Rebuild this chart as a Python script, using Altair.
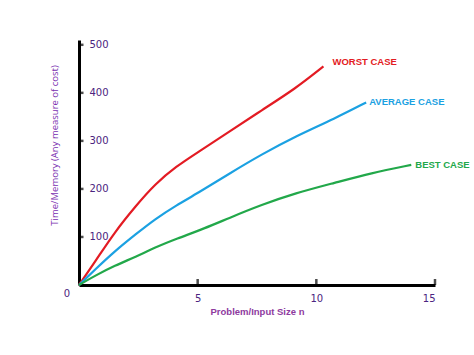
import altair as alt
import pandas as pd

# Data
worst_n = [0, 0.7, 1.5, 2.4, 3.2, 4.1, 5.0, 6.3, 7.7, 9.1, 10.3]
worst_v = [0, 50, 110, 165, 210, 247, 276, 318, 364, 408, 455]
avg_n = [0, 0.7, 1.5, 2.4, 3.2, 4.1, 5.0, 6.3, 7.7, 9.1, 10.8, 12.1]
avg_v = [0, 33, 70, 106, 137, 166, 191, 231, 272, 309, 347, 380]
best_n = [0, 0.7, 1.5, 2.4, 3.2, 4.1, 5.3, 6.3, 7.7, 9.1, 10.8, 12.3, 14.0]
best_v = [0, 20, 40, 59, 78, 96, 118, 139, 167, 191, 213, 233, 250]

series = ["WORST CASE", "AVERAGE CASE", "BEST CASE"]
colors = ["#E31B23", "#1BA1E2", "#22A84A"]
x_ticks = [5, 10, 15]
y_ticks = [100, 200, 300, 400, 500]

rows = []
for name, ns, vs in zip(series, [worst_n, avg_n, best_n], [worst_v, avg_v, best_v]):
    for i, (n, v) in enumerate(zip(ns, vs)):
        rows.append({"series": name, "n": n, "v": v, "order": i})
df = pd.DataFrame(rows)

ends = df.sort_values("order").groupby("series").tail(1)

W, H = 356, 245
xs = alt.Scale(domain=[0, 15], nice=False)
ys = alt.Scale(domain=[0, 510], nice=False)
col = alt.Scale(domain=series, range=colors)

x_axis = alt.Axis(
    values=x_ticks, ticks=False, grid=False, domainColor="black", domainWidth=3,
    labelColor="#4B2480", labelFontSize=10, labelFont="DejaVu Sans", labelPadding=8,
    title="Problem/Input Size n", titleColor="#8E3A9E", titleFont="Liberation Sans",
    titleFontSize=9.5, titleFontWeight="bold", titlePadding=3,
)
y_axis = alt.Axis(
    values=y_ticks, ticks=False, grid=False, domainColor="black", domainWidth=3,
    labelColor="#4B2480", labelFontSize=10, labelFont="DejaVu Sans",
    labelAlign="left", labelPadding=-10, labelBaseline="middle",
    title="Time/Memory (Any measure of cost)", titleColor="#7A2FB0",
    titleFont="Open Sans", titleFontSize=9.5, titleFontWeight="normal",
    titleAngle=-90, titleX=-25, titleY=105, titleAlign="center", titleBaseline="middle",
)

lines = alt.Chart(df).mark_line(strokeWidth=2.2, interpolate="basis").encode(
    x=alt.X("n:Q", scale=xs, axis=x_axis),
    y=alt.Y("v:Q", scale=ys, axis=y_axis),
    color=alt.Color("series:N", scale=col, legend=None),
    order="order:Q",
)

label_offsets = {"WORST CASE": (9, -4), "AVERAGE CASE": (3, 0), "BEST CASE": (4, 0)}
label_layers = []
for name in series:
    dx, dy = label_offsets[name]
    label_layers.append(
        alt.Chart(ends).transform_filter(alt.datum.series == name).mark_text(
            align="left", baseline="middle", dx=dx, dy=dy, font="Liberation Sans",
            fontSize=9.5, fontWeight="bold",
        ).encode(
            x=alt.X("n:Q", scale=xs),
            y=alt.Y("v:Q", scale=ys),
            text="series:N",
            color=alt.Color("series:N", scale=col, legend=None),
        )
    )

xt = alt.Chart(pd.DataFrame({"t": x_ticks})).mark_tick(
    orient="vertical", color="black", size=6, thickness=2.5, yOffset=-3
).encode(x=alt.X("t:Q", scale=xs), y=alt.Y(datum=0, scale=ys))

yt = alt.Chart(pd.DataFrame({"t": y_ticks})).mark_tick(
    orient="horizontal", color="black", size=5, thickness=2.5, xOffset=2
).encode(y=alt.Y("t:Q", scale=ys), x=alt.X(datum=0, scale=xs))

zero = alt.Chart(pd.DataFrame({"a": [0], "b": [0], "t": ["0"]})).mark_text(
    dx=-12, dy=9, font="DejaVu Sans", fontSize=10, color="#4B2480"
).encode(x=alt.X("a:Q", scale=xs), y=alt.Y("b:Q", scale=ys), text="t:N")

chart = alt.layer(lines, *label_layers, xt, yt, zero).properties(
    width=W, height=H,
    background="white",
    autosize=alt.AutoSizeParams(type="none"),
    padding={"left": 79, "top": 40, "right": 39, "bottom": 70},
).configure_view(stroke=None)

chart.save("out.html", embed_options={"renderer": "svg", "actions": False})
